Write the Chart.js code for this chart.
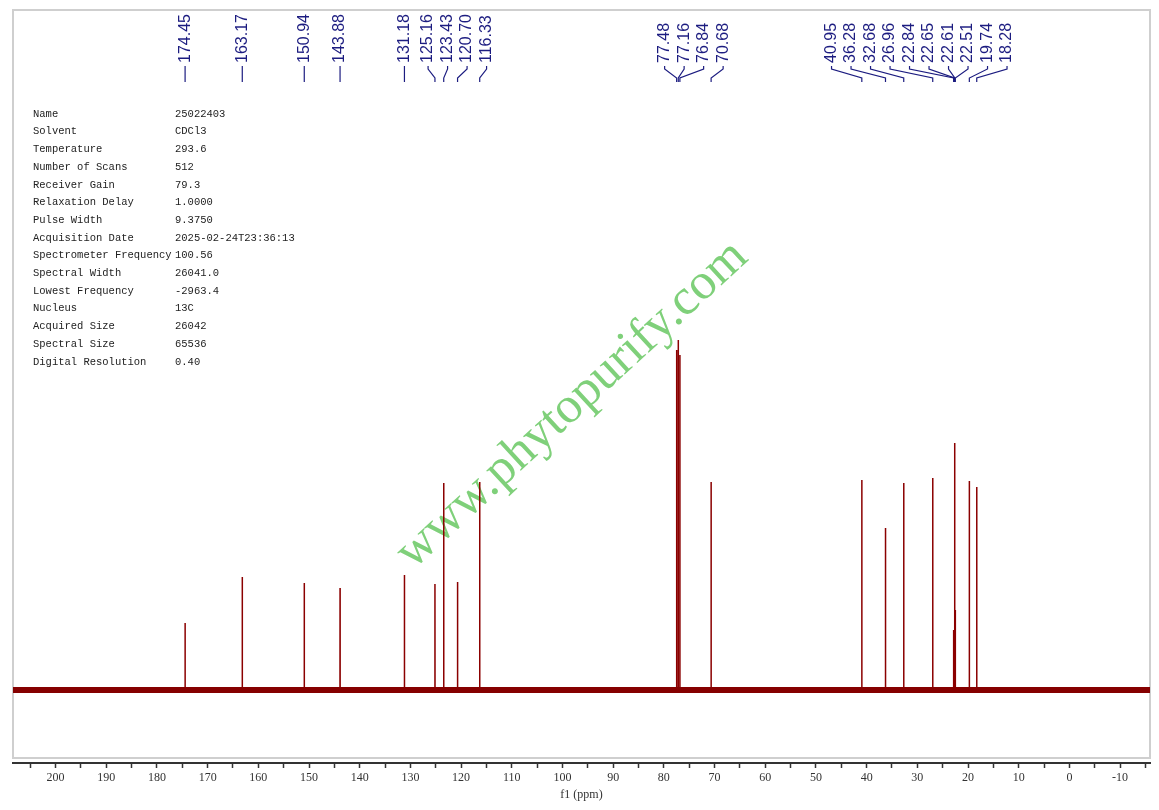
<!DOCTYPE html>
<html>
<head>
<meta charset="utf-8">
<title>13C NMR 25022403</title>
<script src="https://cdn.jsdelivr.net/npm/chart.js@4.4.1/dist/chart.umd.min.js"></script>
<style>
  body { margin: 0; background: #fff; }
  #wrap { width: 1159px; height: 810px; }
</style>
</head>
<body>
<div id="wrap"><canvas id="nmr" width="1159" height="810"></canvas></div>
<script>
//* datos del espectro (ppm y altura)
const peakPpm = [174.45, 163.17, 150.94, 143.88, 131.18, 125.16, 123.43, 120.70, 116.33,
  77.48, 77.16, 76.84, 70.68,
  40.95, 36.28, 32.68, 26.96, 22.84, 22.65, 22.61, 22.51, 19.74, 18.28];
const peakHeight = [67, 113, 107, 102, 115, 106, 207, 108, 208,
  340, 350, 335, 208,
  210, 162, 207, 212, 60, 247, 218, 80, 209, 203];

const ppmMin = -15.9;
const ppmMax = 208.4;
const intensityMin = -73;
const intensityMax = 680;

//* tabla de parametros
const paramNames = ["Name", "Solvent", "Temperature", "Number of Scans", "Receiver Gain",
  "Relaxation Delay", "Pulse Width", "Acquisition Date", "Spectrometer Frequency",
  "Spectral Width", "Lowest Frequency", "Nucleus", "Acquired Size", "Spectral Size",
  "Digital Resolution"];
const paramValues = ["25022403", "CDCl3", "293.6", "512", "79.3", "1.0000", "9.3750",
  "2025-02-24T23:36:13", "100.56", "26041.0", "-2963.4", "13C", "26042", "65536", "0.40"];

const watermark = "www.phytopurify.com";
const axisTitle = "f1 (ppm)";

//* armar la linea del espectro a partir de los picos
function buildSpectrum() {
  const order = peakPpm.map((p, i) => i).sort((a, b) => peakPpm[b] - peakPpm[a]);
  const pts = [{ x: ppmMax, y: 0 }];
  for (let i of order) {
    pts.push({ x: peakPpm[i] + 0.015, y: 0 });
    pts.push({ x: peakPpm[i], y: peakHeight[i] });
    pts.push({ x: peakPpm[i] - 0.015, y: 0 });
  }
  pts.push({ x: ppmMin, y: 0 });
  return pts;
}

//* repartir etiquetas para que no se encimen
function spreadLabels(xs, gap) {
  let groups = xs.map((x) => ({ n: 1, lo: x, hi: x }));
  let merged = true;
  while (merged) {
    merged = false;
    for (let g = 0; g < groups.length - 1; g++) {
      const a = groups[g], b = groups[g + 1];
      const aEnd = (a.lo + a.hi) / 2 + (a.n - 1) * gap / 2;
      const bStart = (b.lo + b.hi) / 2 - (b.n - 1) * gap / 2;
      if (bStart - aEnd < gap) {
        groups.splice(g, 2, { n: a.n + b.n, lo: Math.min(a.lo, b.lo), hi: Math.max(a.hi, b.hi) });
        merged = true;
        break;
      }
    }
  }
  const out = [];
  for (let g of groups) {
    const c = (g.lo + g.hi) / 2;
    for (let k = 0; k < g.n; k++) out.push(c + (k - (g.n - 1) / 2) * gap);
  }
  return out;
}

const framePlugin = {
  id: "frame",
  beforeDatasetsDraw(chart) {
    const { ctx, chartArea } = chart;
    ctx.save();
    ctx.strokeStyle = "#cfcfcf";
    ctx.lineWidth = 2;
    ctx.strokeRect(chartArea.left, chartArea.top, chartArea.right - chartArea.left, chartArea.bottom - 5 - chartArea.top);

    // marca de agua
    ctx.translate(413, 570);
    ctx.rotate(-42.7 * Math.PI / 180);
    ctx.font = '51px "Liberation Serif"';
    ctx.fillStyle = "#7fd07a";
    ctx.textBaseline = "alphabetic";
    ctx.fillText(watermark, 0, 0);
    ctx.restore();

    // parametros
    ctx.save();
    ctx.font = '10.5px "Liberation Mono"';
    ctx.fillStyle = "#222";
    ctx.textBaseline = "middle";
    for (let i = 0; i < paramNames.length; i++) {
      ctx.fillText(paramNames[i], 33, 114 + i * 17.7);
      ctx.fillText(paramValues[i], 175, 114 + i * 17.7);
    }
    ctx.restore();
  },
  afterDraw(chart) {
    const { ctx } = chart;
    const xs = chart.scales.x;
    const order = peakPpm.map((p, i) => i).sort((a, b) => peakPpm[b] - peakPpm[a]);
    const px = order.map((i) => xs.getPixelForValue(peakPpm[i]));
    const lx = spreadLabels(px, 19.5);
    ctx.save();
    ctx.strokeStyle = "#1c1c80";
    ctx.fillStyle = "#1c1c80";
    ctx.lineWidth = 1.2;
    ctx.font = '16px "Liberation Sans"';
    order.forEach((i, k) => {
      ctx.beginPath();
      ctx.moveTo(lx[k], 66);
      ctx.lineTo(lx[k], 69);
      ctx.lineTo(px[k], 78);
      ctx.lineTo(px[k], 82);
      ctx.stroke();
      ctx.save();
      ctx.translate(lx[k], 63);
      ctx.rotate(-Math.PI / 2);
      ctx.textAlign = "left";
      ctx.textBaseline = "middle";
      ctx.fillText(peakPpm[i].toFixed(2), 0, 0);
      ctx.restore();
    });
    ctx.restore();
  }
};

const config = {
  type: "scatter",
  data: {
    datasets: [
      {
        label: "ruido",
        data: [{ x: ppmMax, y: 0 }, { x: ppmMin, y: 0 }],
        showLine: true,
        borderColor: "#850000",
        borderWidth: 6,
        pointRadius: 0,
      },
      {
        label: "13C",
        data: buildSpectrum(),
        showLine: true,
        borderColor: "#8b0000",
        borderWidth: 1.5,
        pointRadius: 0,
      },
    ],
  },
  options: {
    responsive: false,
    animation: false,
    devicePixelRatio: 1,
    layout: { padding: { top: 10, left: 13, right: 9, bottom: 0 } },
    plugins: { legend: { display: false }, tooltip: { enabled: false } },
    scales: {
      x: {
        type: "linear",
        reverse: true,
        min: ppmMin,
        max: ppmMax,
        afterFit: (scale) => { scale.height = 47; },
        border: { display: true, color: "#333", width: 2 },
        grid: { display: true, drawOnChartArea: false, drawTicks: true, tickLength: 5, color: "#333", tickWidth: 1.5 },
        ticks: {
          stepSize: 5,
          includeBounds: false,
          autoSkip: false,
          maxRotation: 0,
          padding: 3,
          color: "#333",
          font: { family: "Liberation Serif", size: 12 },
          callback: (v) => (v % 10 === 0 ? String(v) : ""),
        },
        title: {
          display: true,
          text: axisTitle,
          color: "#333",
          font: { family: "Liberation Serif", size: 12 },
          padding: { top: 0, bottom: 8 },
        },
      },
      y: { display: false, min: intensityMin, max: intensityMax },
    },
  },
  plugins: [framePlugin],
};

new Chart(document.getElementById("nmr"), config);
</script>
</body>
</html>
